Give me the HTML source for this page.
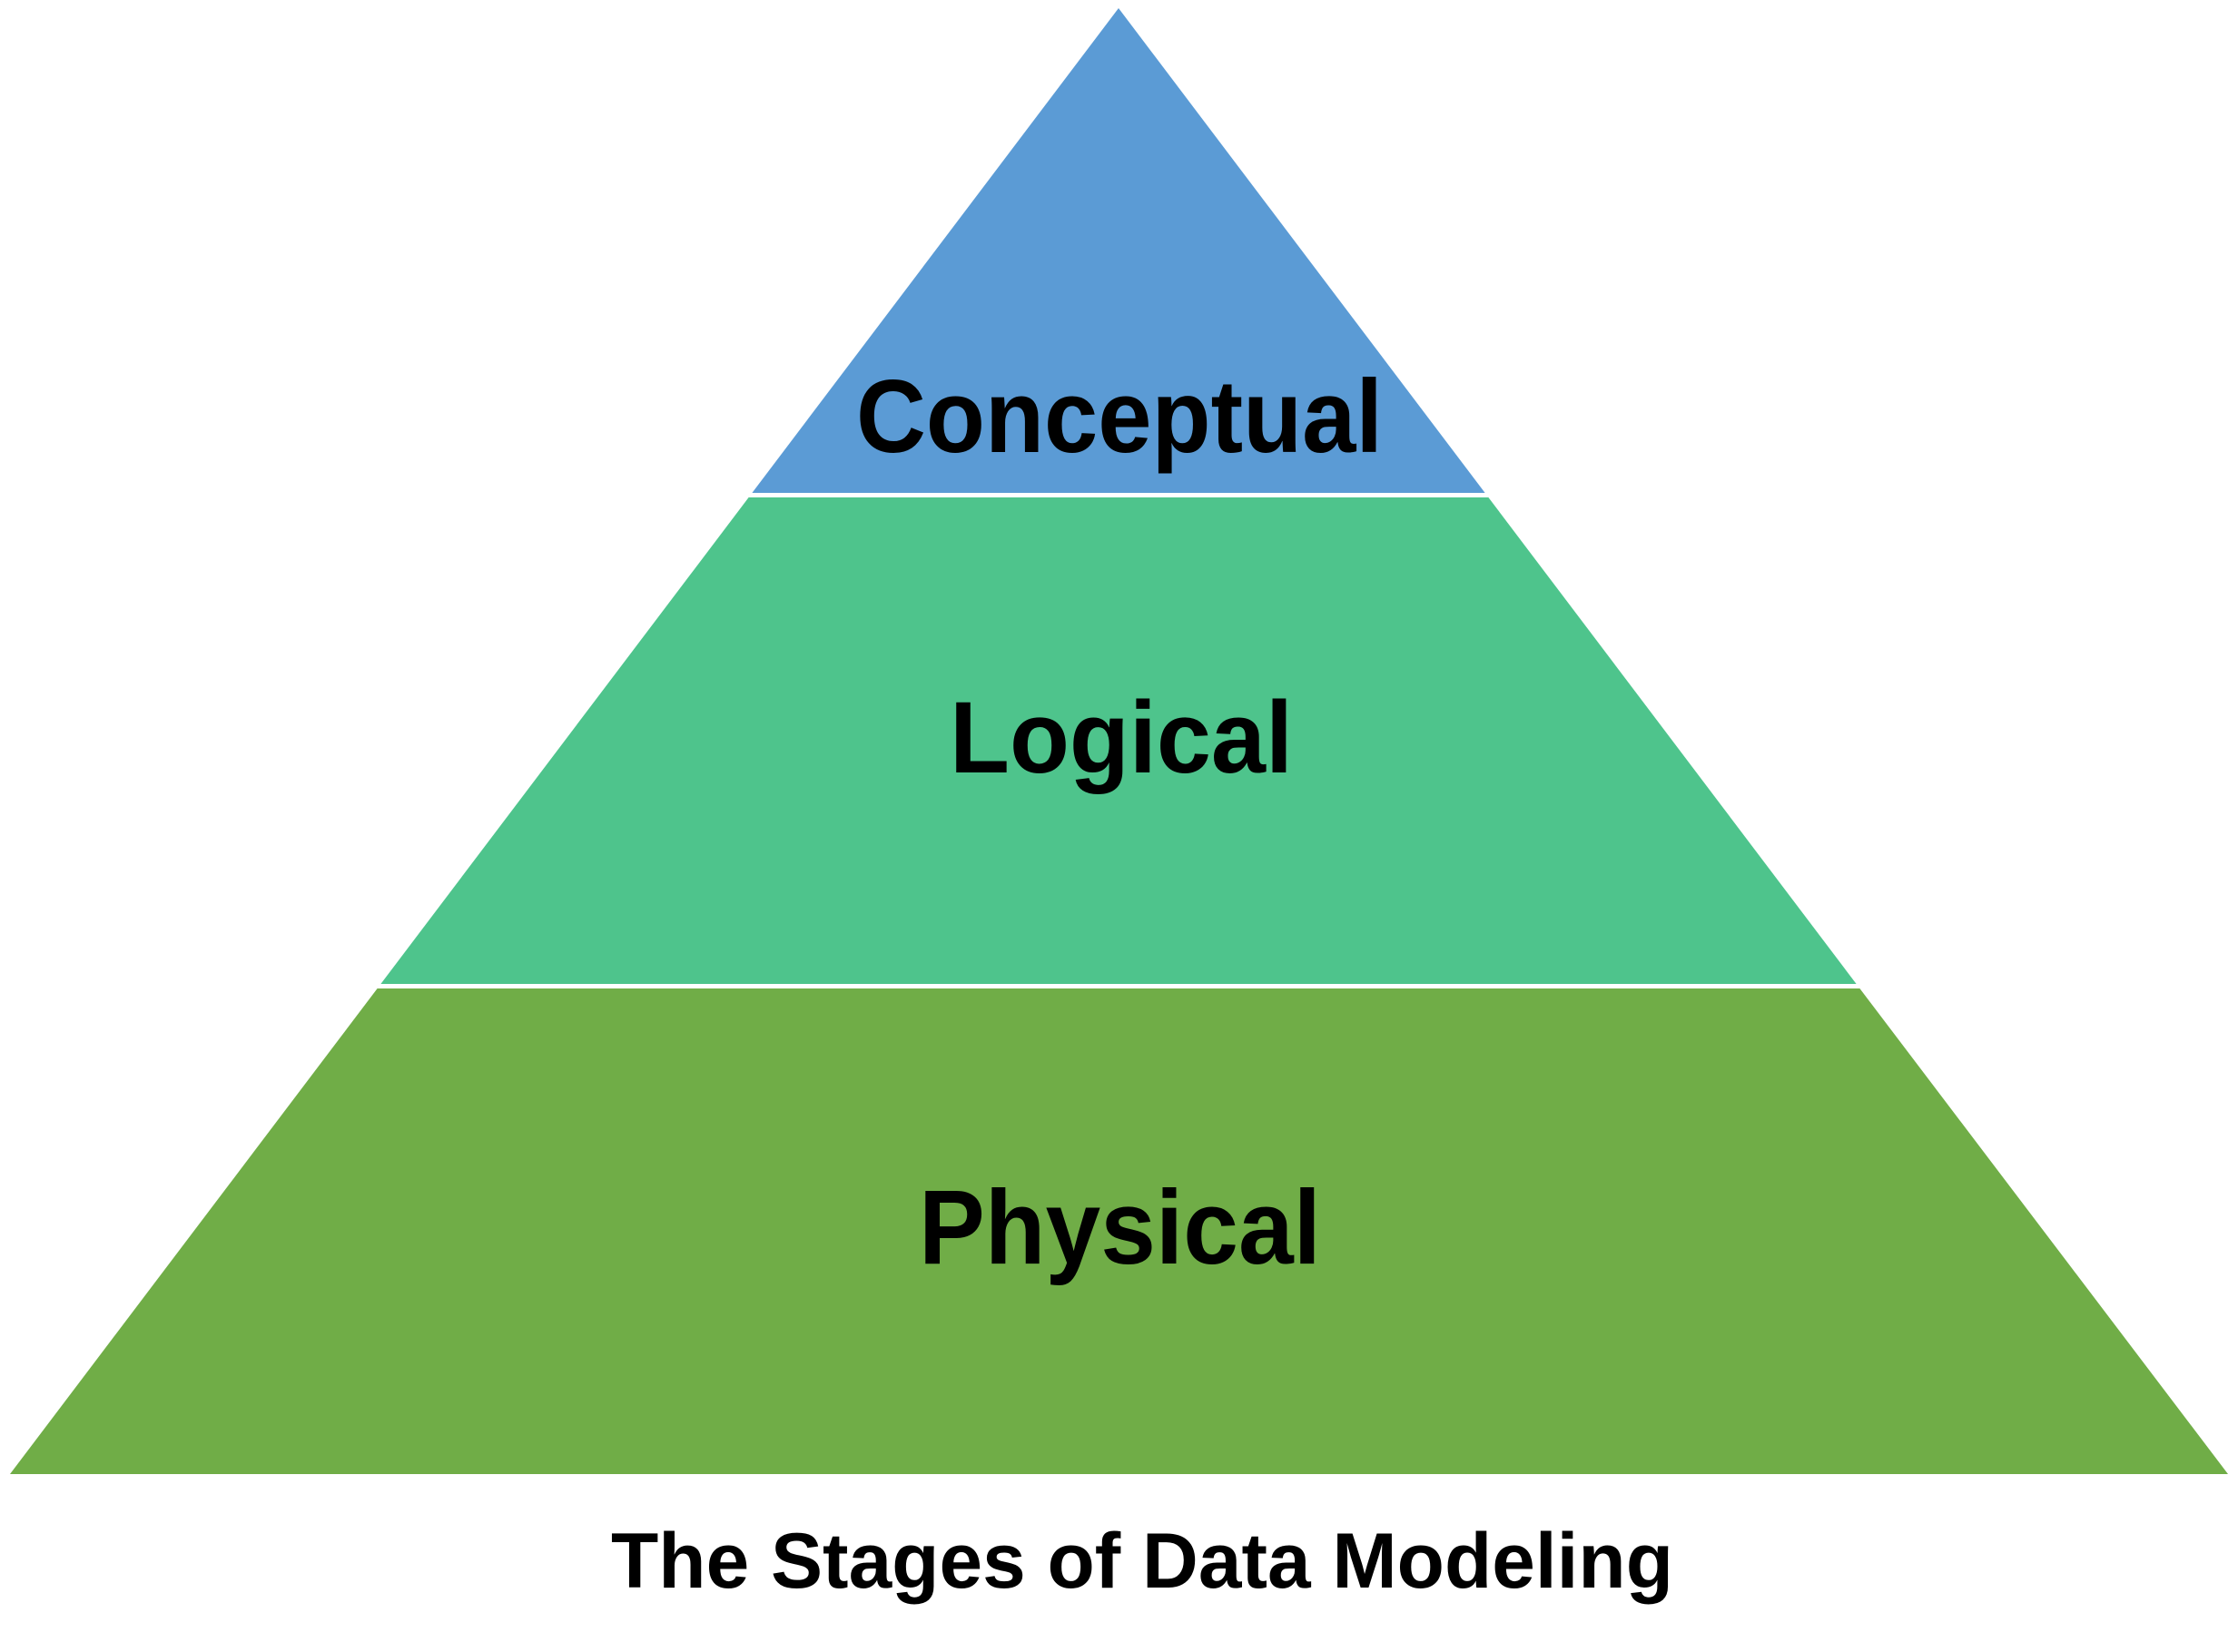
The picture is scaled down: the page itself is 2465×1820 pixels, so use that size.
<!DOCTYPE html>
<html>
<head>
<meta charset="utf-8">
<style>
  html, body { margin: 0; padding: 0; background: #ffffff; }
  body { width: 2465px; height: 1820px; overflow: hidden; }
  svg { display: block; }
  text { font-family: "Liberation Sans", "DejaVu Sans", sans-serif; font-weight: bold; fill: #000000; }
</style>
</head>
<body>
<svg width="2465" height="1820" viewBox="0 0 2465 1820" xmlns="http://www.w3.org/2000/svg">
  <rect x="0" y="0" width="2465" height="1820" fill="#ffffff"/>
  <!-- Conceptual (blue) -->
  <polygon points="1232,9 826.5,545.5 1637.5,545.5" fill="#5B9BD5"/>
  <!-- Logical (teal green) -->
  <polygon points="826.5,545.5 1637.5,545.5 2046.5,1086.5 417.5,1086.5" fill="#4EC48C"/>
  <!-- Physical (green) -->
  <polygon points="417.5,1086.5 2046.5,1086.5 2454,1624 11,1624" fill="#70AD47"/>
  <!-- white separators -->
  <rect x="780" y="543" width="900" height="5" fill="#ffffff"/>
  <rect x="380" y="1084" width="1710" height="5" fill="#ffffff"/>

  <text x="943" y="498" font-size="114" textLength="580" lengthAdjust="spacingAndGlyphs">Conceptual</text>
  <text x="1046" y="851" font-size="112" textLength="378" lengthAdjust="spacingAndGlyphs">Logical</text>
  <text x="1012" y="1392" font-size="116" textLength="443" lengthAdjust="spacingAndGlyphs">Physical</text>
  <text x="673" y="1749" font-size="86" textLength="1170" lengthAdjust="spacingAndGlyphs">The Stages of Data Modeling</text>
</svg>
</body>
</html>
